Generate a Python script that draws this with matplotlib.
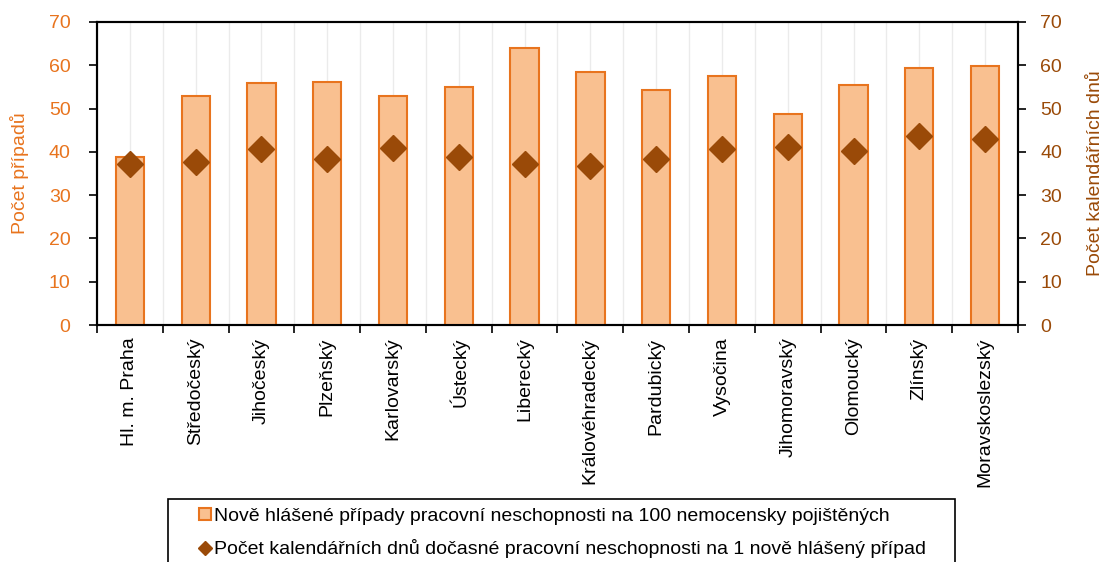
import numpy as np
import matplotlib.pyplot as plt
from matplotlib.patches import Rectangle

plt.rcParams['font.family'] = ['Liberation Sans', 'DejaVu Sans']

# Data
regions = ["Hl. m. Praha", "Středočeský", "Jihočeský", "Plzeňský", "Karlovarský",
           "Ústecký", "Liberecký", "Královéhradecký", "Pardubický", "Vysočina",
           "Jihomoravský", "Olomoucký", "Zlínský", "Moravskoslezský"]
cases = [38.9, 52.9, 56.0, 56.2, 53.0, 55.0, 63.9, 58.4, 54.2, 57.5, 48.7, 55.4, 59.3, 59.8]
days = [37.1, 37.7, 40.7, 38.3, 41.0, 38.7, 37.3, 36.8, 38.4, 40.7, 41.1, 40.1, 43.6, 42.9]

label_cases = "Nově hlášené případy pracovní neschopnosti na 100 nemocensky pojištěných"
label_days = "Počet kalendářních dnů dočasné pracovní neschopnosti na 1 nově hlášený případ"

orange = "#E8741E"
bar_fill = "#F9C090"
brown = "#9A4A08"
fs = 14

fig = plt.figure(figsize=(11.06, 5.62), dpi=100)
ax = fig.add_axes([0.0877, 0.4217, 0.8327, 0.5392])
ax2 = ax.twinx()

x = np.arange(len(regions))
bars = ax.bar(x, cases, width=0.43, color=bar_fill, edgecolor=orange, linewidth=1.5,
              label=label_cases, zorder=3)
pts, = ax2.plot(x, days, linestyle="none", marker="D", markersize=13, color=brown,
                label=label_days, zorder=4)

# gridlines at centres and boundaries
for v in np.arange(-0.5, len(regions), 0.5):
    ax.axvline(v, color="#EBEBEB", linewidth=1, zorder=0)

ax.set_xlim(-0.5, len(regions) - 0.5)
ax.set_ylim(0, 70)
ax2.set_ylim(0, 70)
ax.set_yticks(range(0, 71, 10))
ax2.set_yticks(range(0, 71, 10))

ax.set_xticks(np.arange(-0.5, len(regions), 1.0))
ax.set_xticklabels([])
ax.set_xticks(x, minor=True)
ax.set_xticklabels(regions, minor=True, rotation=90, fontsize=fs)
ax.tick_params(axis="x", which="minor", length=0, pad=9)
ax.tick_params(axis="x", which="major", length=6, width=1.2)

ax.tick_params(axis="y", labelsize=fs, labelcolor=orange, length=6, width=1.2, pad=13)
ax2.tick_params(axis="y", labelsize=fs, labelcolor=brown, length=6, width=1.2, pad=10)

ax.set_ylabel("Počet případů", color=orange, fontsize=fs, labelpad=14)
ax2.set_ylabel("Počet kalendářních dnů", color=brown, fontsize=fs, labelpad=18)

for a in (ax, ax2):
    for s in a.spines.values():
        s.set_linewidth(1.5)
        s.set_color("black")

ax2.patch.set_visible(False)
ax2.set_zorder(2)
ax.set_zorder(1)

# legend box (runs past the bottom edge, as in the original)
fig.patches.append(Rectangle((168 / 1106, -0.05), 787 / 1106, 1 - 499 / 562 + 0.05,
                             transform=fig.transFigure, fill=False,
                             edgecolor="black", linewidth=1.2))
leg = fig.legend([bars, pts], [label_cases, label_days],
                 loc="upper left", bbox_to_anchor=(199 / 1106, 1 - 508 / 562),
                 borderaxespad=0, borderpad=0, fontsize=fs, frameon=False,
                 handlelength=0.6, handleheight=0.6, handletextpad=0.15,
                 labelspacing=0.74, markerscale=0.55)

fig.savefig("out.png", dpi=100)
